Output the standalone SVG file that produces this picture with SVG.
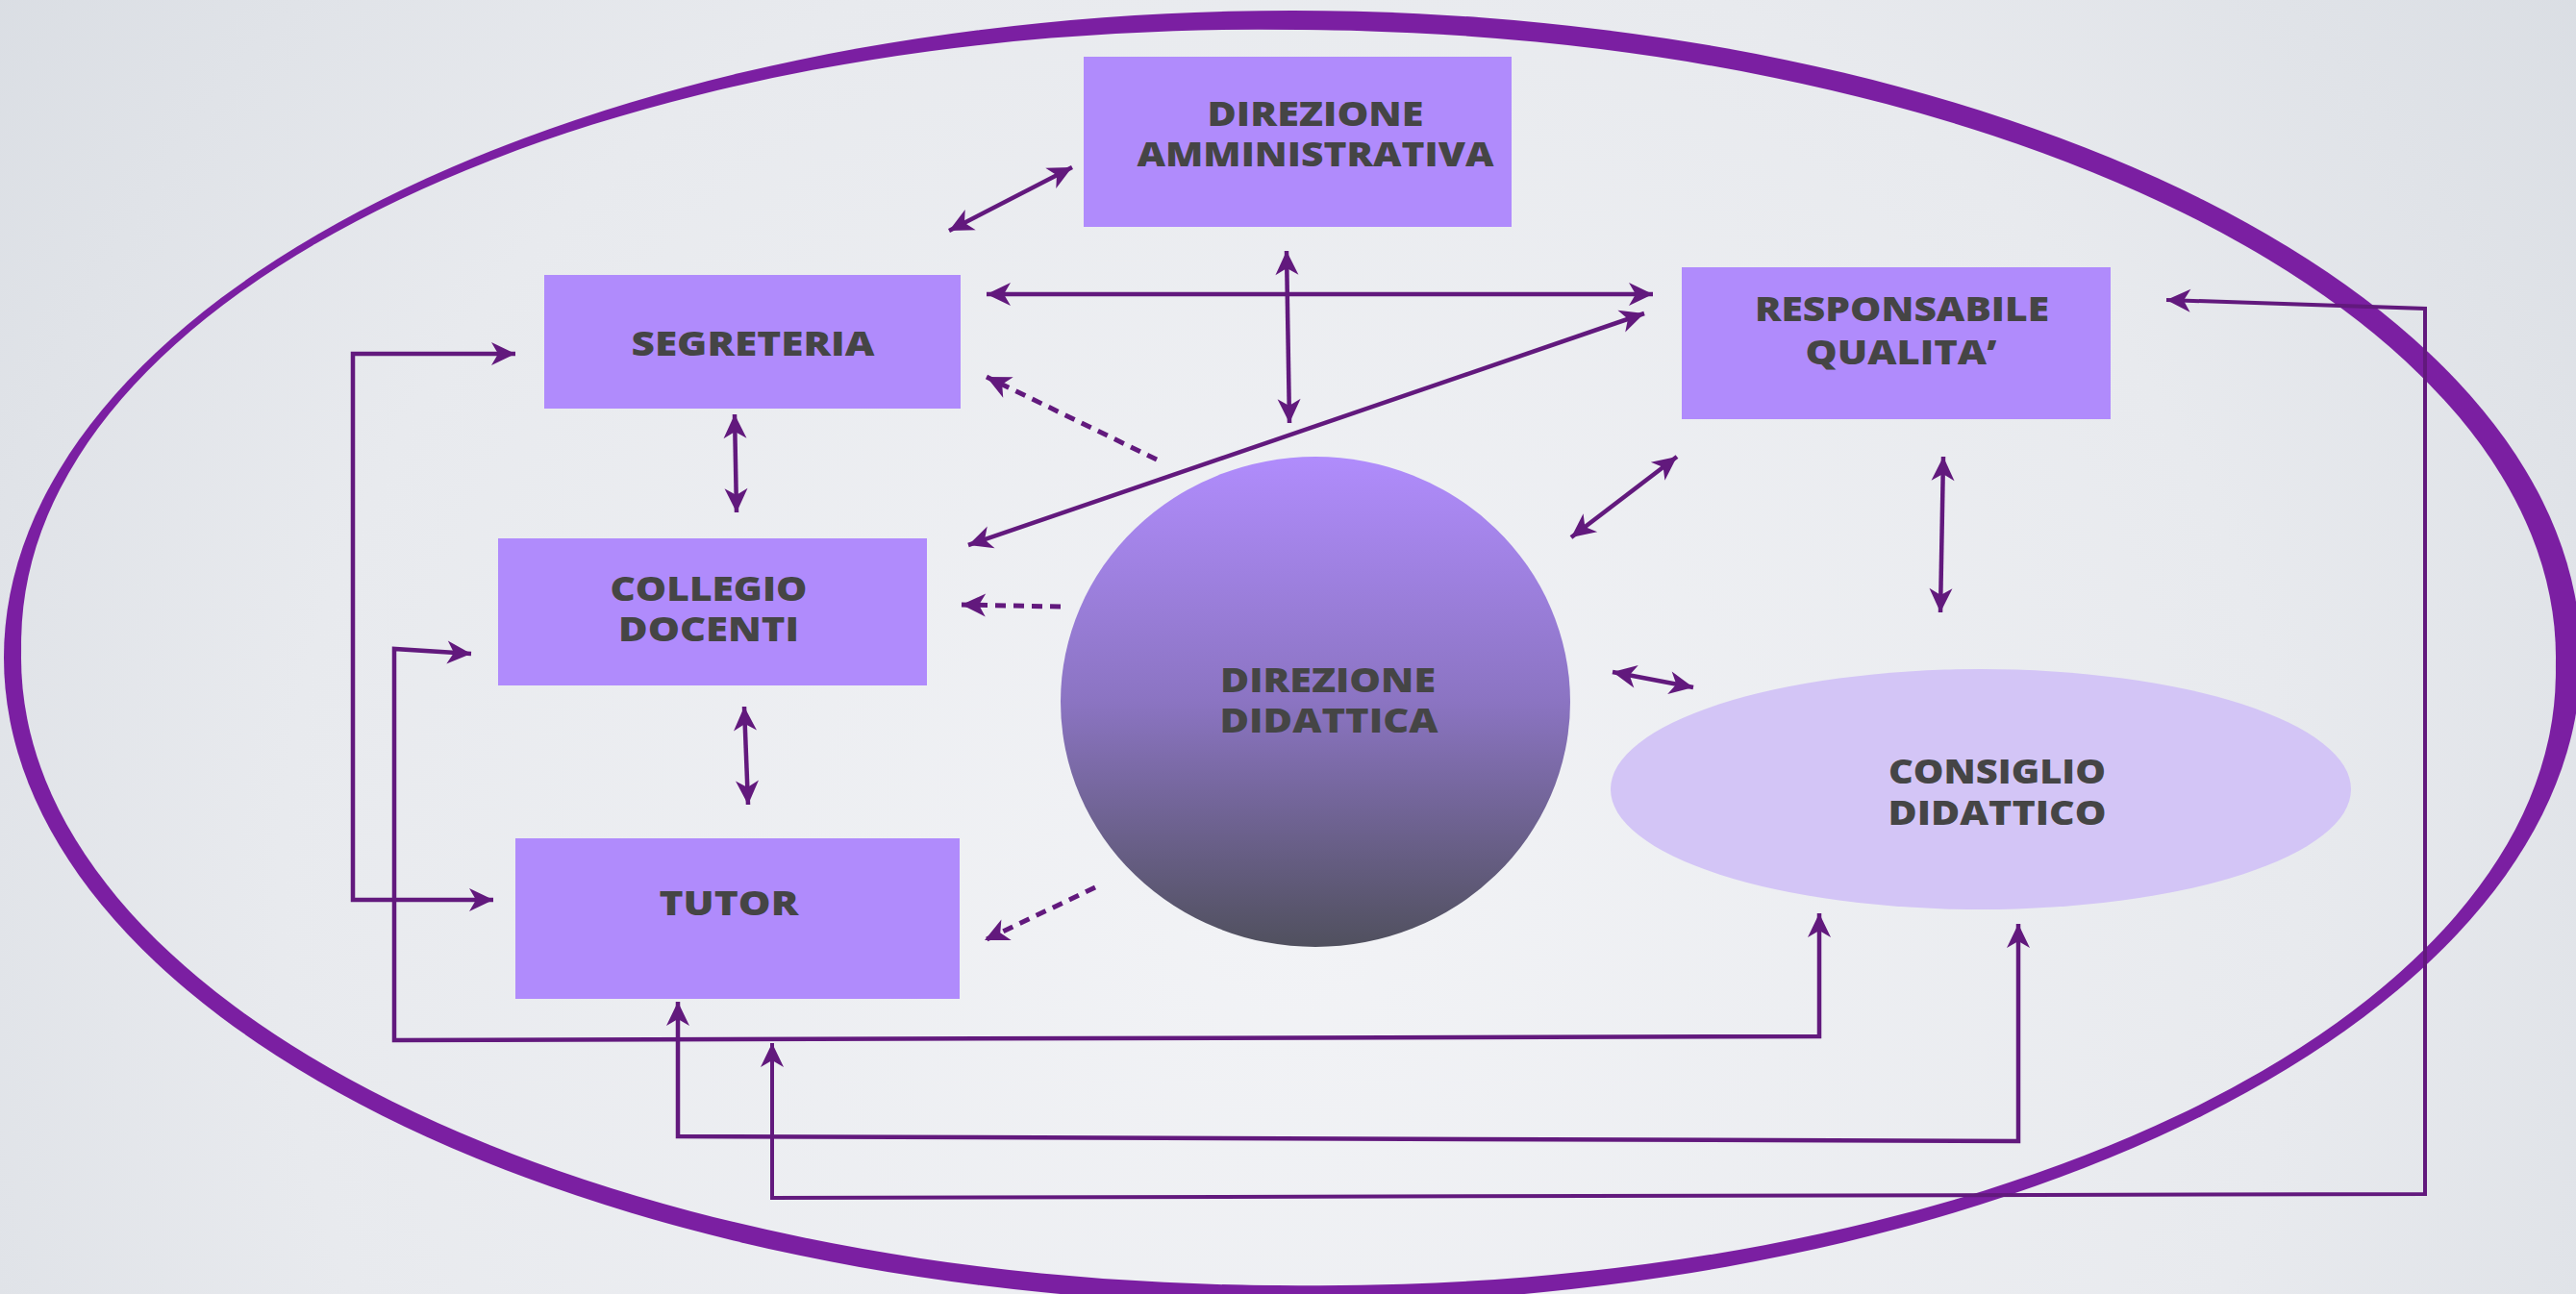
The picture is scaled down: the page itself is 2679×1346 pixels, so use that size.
<svg xmlns="http://www.w3.org/2000/svg" width="2679" height="1346" viewBox="0 0 2679 1346">
<style>
.box{fill:#b08bfc}
.lbl{font-family:"Open Sans","DejaVu Sans","Liberation Sans",sans-serif;font-weight:800;font-size:35px;fill:#454545;text-anchor:middle}
.ln{fill:none;stroke:#62197d;stroke-width:4.5;marker-start:url(#ah);marker-end:url(#ah)}
.el{fill:none;stroke:#62197d;stroke-width:4.5;stroke-linejoin:miter;marker-start:url(#ah);marker-end:url(#ah)}
.ds{fill:none;stroke:#62197d;stroke-width:5;stroke-dasharray:11 8;marker-end:url(#ah)}
</style>
<defs>
<radialGradient id="bg" gradientUnits="userSpaceOnUse" cx="1340" cy="950" r="1750">
<stop offset="0" stop-color="#f2f3f6"/>
<stop offset="0.6" stop-color="#e8eaee"/>
<stop offset="1" stop-color="#d8dce2"/>
</radialGradient>
<linearGradient id="dd" x1="0" y1="0" x2="0" y2="1">
<stop offset="0" stop-color="#b08cfc"/>
<stop offset="0.5" stop-color="#8b74c2"/>
<stop offset="1" stop-color="#50505e"/>
</linearGradient>
<mask id="ring" maskUnits="userSpaceOnUse" x="0" y="0" width="2679" height="1346">
<rect x="0" y="0" width="2679" height="1346" fill="#fff"/>
<ellipse cx="1340" cy="684" rx="1318" ry="653" fill="#000"/>
<ellipse cx="1340" cy="684" rx="1318" ry="653" fill="#000" transform="rotate(0.9 1340 684)"/>
</mask>
<marker id="ah" viewBox="-26 -13 27 26" refX="0" refY="0" markerWidth="27" markerHeight="26" markerUnits="userSpaceOnUse" orient="auto-start-reverse">
<path d="M0,0 L-25,-12 L-18,0 L-25,12 Z" fill="#62197d"/>
</marker>
</defs>
<rect x="0" y="0" width="2679" height="1346" fill="url(#bg)"/>
<ellipse id="frame" cx="1344" cy="684" rx="1340" ry="673" fill="#7b1fa2" mask="url(#ring)"/>

<g id="dir-amministrativa">
<rect class="box" x="1127" y="59" width="445" height="177"/>
<text class="lbl" x="1368" y="131" textLength="225" lengthAdjust="spacingAndGlyphs">DIREZIONE</text>
<text class="lbl" x="1368" y="173" textLength="371" lengthAdjust="spacingAndGlyphs">AMMINISTRATIVA</text>
</g>
<g id="segreteria">
<rect class="box" x="566" y="286" width="433" height="139"/>
<text class="lbl" x="783" y="370" textLength="253" lengthAdjust="spacingAndGlyphs">SEGRETERIA</text>
</g>
<g id="collegio-docenti">
<rect class="box" x="518" y="560" width="446" height="153"/>
<text class="lbl" x="737" y="625" textLength="205" lengthAdjust="spacingAndGlyphs">COLLEGIO</text>
<text class="lbl" x="737" y="667" textLength="188" lengthAdjust="spacingAndGlyphs">DOCENTI</text>
</g>
<g id="tutor">
<rect class="box" x="536" y="872" width="462" height="167"/>
<text class="lbl" x="758" y="952" textLength="145" lengthAdjust="spacingAndGlyphs">TUTOR</text>
</g>
<g id="responsabile-qualita">
<rect class="box" x="1749" y="278" width="446" height="158"/>
<text class="lbl" x="1978" y="334" textLength="306" lengthAdjust="spacingAndGlyphs">RESPONSABILE</text>
<text class="lbl" x="1977" y="379" textLength="199" lengthAdjust="spacingAndGlyphs">QUALITA’</text>
</g>
<g id="direzione-didattica">
<ellipse cx="1368" cy="730" rx="265" ry="255" fill="url(#dd)"/>
<text class="lbl" x="1381" y="720" textLength="224" lengthAdjust="spacingAndGlyphs">DIREZIONE</text>
<text class="lbl" x="1382" y="762" textLength="227" lengthAdjust="spacingAndGlyphs">DIDATTICA</text>
</g>
<g id="consiglio-didattico">
<ellipse cx="2060" cy="821" rx="385" ry="125" fill="#d3c5f6"/>
<text class="lbl" x="2077" y="815" textLength="226" lengthAdjust="spacingAndGlyphs">CONSIGLIO</text>
<text class="lbl" x="2077" y="858" textLength="227" lengthAdjust="spacingAndGlyphs">DIDATTICO</text>
</g>

<g id="connectors">
<line class="ln" x1="987" y1="240" x2="1115" y2="174"/>
<line class="ln" x1="1026" y1="306" x2="1719" y2="306"/>
<line class="ln" x1="1338" y1="261" x2="1341" y2="440"/>
<line class="ln" x1="1007" y1="567" x2="1710" y2="326"/>
<line class="ln" x1="764" y1="431" x2="766" y2="533"/>
<line class="ln" x1="774" y1="735" x2="778" y2="837"/>
<line class="ln" x1="1634" y1="559" x2="1744" y2="475"/>
<line class="ln" x1="2021" y1="475" x2="2018" y2="637"/>
<line class="ln" x1="1677" y1="699" x2="1761" y2="715"/>
<line class="ds" x1="1203" y1="478" x2="1026" y2="392"/>
<line class="ds" x1="1103" y1="631" x2="1000" y2="629"/>
<line class="ds" x1="1139" y1="923" x2="1024" y2="978"/>
<path class="el" d="M536,368 L367,368 L367,936 L513,936"/>
<path class="el" d="M490,680 L410,675 L410,1082 L1892,1078 L1892,950"/>
<path class="el" d="M705,1042 L705,1182 L2099,1187 L2099,961"/>
<path class="el" style="stroke-width:4" d="M803,1085 L803,1246 L2522,1242 L2522,321 L2253,312"/>
</g>
</svg>
